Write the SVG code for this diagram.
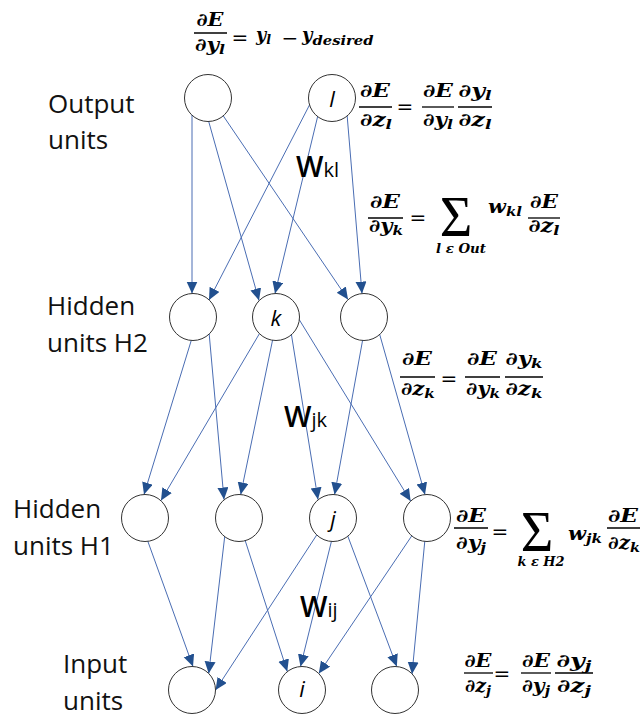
<svg xmlns="http://www.w3.org/2000/svg" width="643" height="718" viewBox="0 0 643 718">
<defs>
<style>
.lbl{font-family:"Open Sans","Liberation Sans",sans-serif;font-size:26px;fill:#111}
.nd circle{fill:#fff;stroke:#333;stroke-width:1}
.nl{font-family:"Open Sans","Liberation Sans",sans-serif;font-style:italic;font-size:22px;text-anchor:middle;fill:#000}
.edge{stroke:#4a6db3;stroke-width:1;fill:none;marker-end:url(#ah)}
.m{font-family:"DejaVu Serif","Liberation Serif",serif;font-style:italic;font-weight:bold;font-size:18px;fill:#000}
.c{text-anchor:middle}
.op{font-style:normal;font-weight:normal;font-size:20px}
.bar{stroke:#000;stroke-width:1.3}
.s{font-size:13px}
.sig{font-family:"Liberation Serif",serif;font-size:56px;text-anchor:middle;fill:#000}
.w{font-family:"Open Sans","Liberation Sans",sans-serif;font-size:29px;font-weight:600;fill:#000}
.ws{font-size:20px;font-weight:400}
</style>
<marker id="ah" markerUnits="userSpaceOnUse" markerWidth="13" markerHeight="12" refX="12" refY="5.5" orient="auto" viewBox="0 0 13 12"><path d="M0,0 L12,5.5 L0,11 Z" fill="#22508f"/></marker>
</defs>
<rect width="643" height="718" fill="#fff"/>

<g id="connectors">
<line class="edge" x1="192" y1="114" x2="192" y2="293.5"/>
<line class="edge" x1="208" y1="119" x2="259" y2="300.5"/>
<line class="edge" x1="222" y1="114" x2="348" y2="299.5"/>
<line class="edge" x1="310" y1="104" x2="209" y2="300"/>
<line class="edge" x1="318" y1="115" x2="275" y2="293.5"/>
<line class="edge" x1="347" y1="114" x2="362" y2="293.6"/>

<line class="edge" x1="192" y1="338" x2="144" y2="494.5"/>
<line class="edge" x1="209" y1="332" x2="224" y2="499.5"/>
<line class="edge" x1="261" y1="331" x2="161" y2="500.5"/>
<line class="edge" x1="273" y1="338" x2="240.7" y2="494.5"/>
<line class="edge" x1="291" y1="332" x2="318" y2="499.5"/>
<line class="edge" x1="297" y1="316" x2="410.6" y2="501"/>
<line class="edge" x1="363" y1="338" x2="334.6" y2="494.5"/>
<line class="edge" x1="379" y1="332" x2="425" y2="494.6"/>

<line class="edge" x1="147" y1="539" x2="193" y2="666.6"/>
<line class="edge" x1="225" y1="534" x2="208.7" y2="673.5"/>
<line class="edge" x1="245" y1="540" x2="287.3" y2="671.5"/>
<line class="edge" x1="318" y1="533" x2="215.6" y2="690"/>
<line class="edge" x1="332" y1="539" x2="300.5" y2="666.5"/>
<line class="edge" x1="347" y1="534" x2="396.8" y2="666.5"/>
<line class="edge" x1="413" y1="534" x2="318.8" y2="673.5"/>
<line class="edge" x1="425" y1="539" x2="412" y2="674"/>
</g>

<g id="out1" class="nd"><circle cx="208" cy="98" r="23.5"/></g>
<g id="out-l" class="nd"><circle cx="332" cy="98" r="23.5"/><text class="nl" x="332" y="107">l</text></g>
<g id="h2a" class="nd"><circle cx="193" cy="317" r="23.5"/></g>
<g id="h2-k" class="nd"><circle cx="276" cy="317" r="23.5"/><text class="nl" x="276" y="326">k</text></g>
<g id="h2c" class="nd"><circle cx="364" cy="317" r="23.5"/></g>
<g id="h1a" class="nd"><circle cx="145" cy="518" r="23.5"/></g>
<g id="h1b" class="nd"><circle cx="239" cy="518" r="23.5"/></g>
<g id="h1-j" class="nd"><circle cx="333" cy="518" r="23.5"/><text class="nl" x="333" y="527">j</text></g>
<g id="h1d" class="nd"><circle cx="427" cy="518" r="23.5"/></g>
<g id="in1" class="nd"><circle cx="192" cy="690" r="23.5"/></g>
<g id="in-i" class="nd"><circle cx="302" cy="690" r="23.5"/><text class="nl" x="302" y="697">i</text></g>
<g id="in3" class="nd"><circle cx="395" cy="690" r="23.5"/></g>

<g id="labels">
<text class="lbl" x="48" y="113">Output</text>
<text class="lbl" x="48" y="149">units</text>
<text class="lbl" x="47" y="315">Hidden</text>
<text class="lbl" x="47" y="352">units H2</text>
<text class="lbl" x="13" y="518">Hidden</text>
<text class="lbl" x="13" y="555">units H1</text>
<text class="lbl" x="63" y="673">Input</text>
<text class="lbl" x="63" y="710">units</text>
<text class="w" x="296" y="177">W<tspan class="ws">kl</tspan></text>
<text class="w" x="284" y="427">W<tspan class="ws">jk</tspan></text>
<text class="w" x="300" y="617">W<tspan class="ws">ij</tspan></text>
</g>

<g id="eq1" lengthAdjust="spacingAndGlyphs">
<text class="m c" x="210" y="26" textLength="27" lengthAdjust="spacingAndGlyphs">∂E</text>
<line class="bar" x1="194" y1="33" x2="227" y2="33"/>
<text class="m c" x="210" y="51" textLength="30" lengthAdjust="spacingAndGlyphs">∂y<tspan class="s" dy="3">l</tspan></text>
<text class="m op c" x="240" y="45">=</text>
<text class="m" x="256" y="41" textLength="15" lengthAdjust="spacingAndGlyphs">y<tspan class="s" dy="3">l</tspan></text>
<text class="m op c" x="290" y="45">−</text>
<text class="m" x="302" y="41">y<tspan class="s" dy="4" textLength="61" lengthAdjust="spacingAndGlyphs">desired</tspan></text>
</g>

<g id="eq2">
<text class="m c" x="375" y="97" textLength="30" lengthAdjust="spacingAndGlyphs">∂E</text>
<line class="bar" x1="359" y1="107" x2="392" y2="107"/>
<text class="m c" x="376" y="126" textLength="32" lengthAdjust="spacingAndGlyphs">∂z<tspan class="s" dy="3">l</tspan></text>
<text class="m op c" x="405" y="114">=</text>
<text class="m c" x="438" y="97" textLength="30" lengthAdjust="spacingAndGlyphs">∂E</text>
<line class="bar" x1="422" y1="107" x2="454" y2="107"/>
<text class="m c" x="438" y="126" textLength="30" lengthAdjust="spacingAndGlyphs">∂y<tspan class="s" dy="3">l</tspan></text>
<text class="m c" x="475" y="97" textLength="33" lengthAdjust="spacingAndGlyphs">∂y<tspan class="s" dy="3">l</tspan></text>
<line class="bar" x1="458" y1="107" x2="492" y2="107"/>
<text class="m c" x="475" y="126" textLength="33" lengthAdjust="spacingAndGlyphs">∂z<tspan class="s" dy="3">l</tspan></text>
</g>

<g id="eq3">
<text class="m c" x="385" y="208" textLength="30" lengthAdjust="spacingAndGlyphs">∂E</text>
<line class="bar" x1="368" y1="218" x2="403" y2="218"/>
<text class="m c" x="386" y="232" textLength="34" lengthAdjust="spacingAndGlyphs">∂y<tspan class="s" dy="3">k</tspan></text>
<text class="m op c" x="418" y="225">=</text>
<text class="sig" x="456" y="236">Σ</text>
<text class="m s c" x="461" y="253" textLength="50" lengthAdjust="spacingAndGlyphs">l ε Out</text>
<text class="m" x="488" y="213" textLength="34" lengthAdjust="spacingAndGlyphs">w<tspan class="s" dy="3">kl</tspan></text>
<text class="m c" x="544" y="208" textLength="28" lengthAdjust="spacingAndGlyphs">∂E</text>
<line class="bar" x1="528" y1="218" x2="560" y2="218"/>
<text class="m c" x="544" y="232" textLength="31" lengthAdjust="spacingAndGlyphs">∂z<tspan class="s" dy="3">l</tspan></text>
</g>

<g id="eq4">
<text class="m c" x="417" y="365" textLength="30" lengthAdjust="spacingAndGlyphs">∂E</text>
<line class="bar" x1="400" y1="377" x2="435" y2="377"/>
<text class="m c" x="418" y="395" textLength="34" lengthAdjust="spacingAndGlyphs">∂z<tspan class="s" dy="3">k</tspan></text>
<text class="m op c" x="449" y="386">=</text>
<text class="m c" x="482" y="365" textLength="30" lengthAdjust="spacingAndGlyphs">∂E</text>
<line class="bar" x1="465" y1="377" x2="500" y2="377"/>
<text class="m c" x="483" y="395" textLength="34" lengthAdjust="spacingAndGlyphs">∂y<tspan class="s" dy="3">k</tspan></text>
<text class="m c" x="524" y="365" textLength="37" lengthAdjust="spacingAndGlyphs">∂y<tspan class="s" dy="3">k</tspan></text>
<line class="bar" x1="505" y1="377" x2="543" y2="377"/>
<text class="m c" x="524" y="395" textLength="37" lengthAdjust="spacingAndGlyphs">∂z<tspan class="s" dy="3">k</tspan></text>
</g>

<g id="eq5">
<text class="m c" x="471" y="522" textLength="30" lengthAdjust="spacingAndGlyphs">∂E</text>
<line class="bar" x1="454" y1="528" x2="488" y2="528"/>
<text class="m c" x="471" y="549" textLength="30" lengthAdjust="spacingAndGlyphs">∂y<tspan class="s" dy="3">j</tspan></text>
<text class="m op c" x="500" y="539">=</text>
<text class="sig" x="537" y="551">Σ</text>
<text class="m s c" x="541" y="566" textLength="47" lengthAdjust="spacingAndGlyphs">k ε H2</text>
<text class="m" x="568" y="540" textLength="34" lengthAdjust="spacingAndGlyphs">w<tspan class="s" dy="3">jk</tspan></text>
<text class="m c" x="623" y="522" textLength="30" lengthAdjust="spacingAndGlyphs">∂E</text>
<line class="bar" x1="607" y1="528" x2="640" y2="528"/>
<text class="m c" x="624" y="549" textLength="32" lengthAdjust="spacingAndGlyphs">∂z<tspan class="s" dy="3">k</tspan></text>
</g>

<g id="eq6">
<text class="m c" x="478" y="667" textLength="27" lengthAdjust="spacingAndGlyphs">∂E</text>
<line class="bar" x1="464" y1="673" x2="493" y2="673"/>
<text class="m c" x="478" y="692" textLength="26" lengthAdjust="spacingAndGlyphs">∂z<tspan class="s" dy="3">j</tspan></text>
<text class="m op c" x="502" y="681">=</text>
<text class="m c" x="536" y="667" textLength="28" lengthAdjust="spacingAndGlyphs">∂E</text>
<line class="bar" x1="521" y1="673" x2="551" y2="673"/>
<text class="m c" x="536" y="692" textLength="28" lengthAdjust="spacingAndGlyphs">∂y<tspan class="s" dy="3">j</tspan></text>
<text class="m c" x="574" y="667" textLength="35" lengthAdjust="spacingAndGlyphs">∂y<tspan class="s" dy="3">j</tspan></text>
<line class="bar" x1="555" y1="673" x2="593" y2="673"/>
<text class="m c" x="574" y="692" textLength="34" lengthAdjust="spacingAndGlyphs">∂z<tspan class="s" dy="3">j</tspan></text>
</g>
</svg>
